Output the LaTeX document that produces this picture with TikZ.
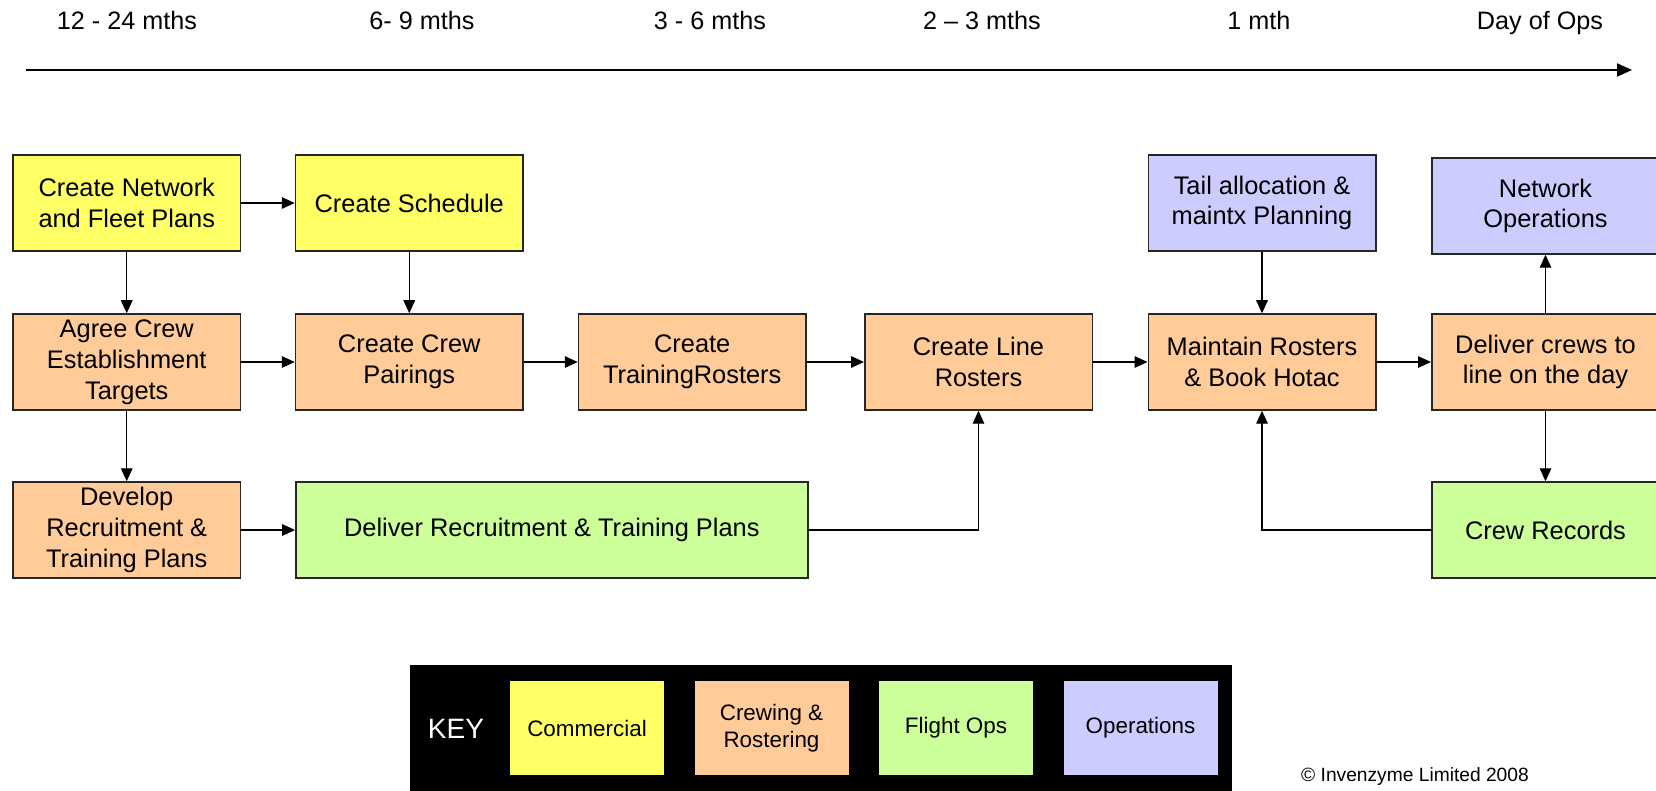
\documentclass[tikz,border=0pt]{standalone}
\usepackage{fontspec}
\setmainfont{Liberation Sans}
\usetikzlibrary{arrows.meta}
\definecolor{commercial}{HTML}{FFFF66}
\definecolor{crewing}{HTML}{FFCC99}
\definecolor{flightops}{HTML}{CCFF99}
\definecolor{operations}{HTML}{CCCCFF}
\begin{document}
\begin{tikzpicture}[x=0.5pt, y=-0.5pt,
  task/.style = {draw=black!85, line width=0.75pt, minimum width=113.75pt, minimum height=48pt, align=center, inner sep=2pt, font=\fontsize{12.7}{15.4}\selectfont},
  when/.style = {anchor=base, font=\fontsize{12.6}{15}\selectfont},
  keybox/.style = {minimum width=77pt, minimum height=47pt, align=center, inner sep=1pt, font=\fontsize{11.2}{13.6}\selectfont},
  flow/.style = {draw, line width=0.6pt, -{Triangle[length=6.5pt,width=5.8pt]}}]
	\useasboundingbox (0,0) rectangle (1656,791);
	% time line
	\node[when] (t1) at (127,30) {12 - 24 mths};
	\node[when] (t2) at (422,30) {6- 9 mths};
	\node[when] (t3) at (710,30) {3 - 6 mths};
	\node[when] (t4) at (982,30) {2 -- 3 mths};
	\node[when] (t5) at (1259,30) {1 mth};
	\node[when] (t6) at (1540,30) {Day of Ops};
	\coordinate (tstart) at (26,70);
	\coordinate (tend) at (1632,70);
	\draw[line width=1pt, -{Triangle[length=7.5pt,width=6.5pt]}] (tstart) -- (tend);
	% tasks
	\node[task, fill=commercial] (net) at (126.75,203) {Create Network\\and Fleet  Plans};
	\node[task, fill=commercial] (sched) at (409.25,203) {Create Schedule};
	\node[task, fill=operations] (tail) at (1262,203) {Tail allocation \&\\maintx Planning};
	\node[task, fill=operations] (netops) at (1545.5,206) {Network\\Operations};
	\node[task, fill=crewing] (agree) at (126.75,362) {Agree Crew\\Establishment\\Targets};
	\node[task, fill=crewing] (pair) at (409.25,362) {Create Crew\\Pairings};
	\node[task, fill=crewing] (train) at (692.25,362) {Create\\TrainingRosters};
	\node[task, fill=crewing] (line) at (978.5,362) {Create Line\\Rosters};
	\node[task, fill=crewing] (maint) at (1262,362) {Maintain Rosters\\\& Book Hotac};
	\node[task, fill=crewing] (deliver) at (1545.5,362) {Deliver crews to\\line on the day};
	\node[task, fill=crewing] (develop) at (126.75,530) {Develop\\Recruitment \&\\Training Plans};
	\node[task, fill=flightops, minimum width=256pt] (recruit) at (551.8,530) {Deliver Recruitment \& Training Plans};
	\node[task, fill=flightops] (records) at (1545.5,530) {Crew Records};
	% connectors
	\draw[flow] (net) -- (sched);
	\draw[flow] (net) -- (agree);
	\draw[flow] (sched) -- (pair);
	\draw[flow] (agree) -- (pair);
	\draw[flow] (agree) -- (develop);
	\draw[flow] (develop) -- (recruit);
	\draw[flow] (pair) -- (train);
	\draw[flow] (train) -- (line);
	\draw[flow] (recruit) -| (line);
	\draw[flow] (line) -- (maint);
	\draw[flow] (tail) -- (maint);
	\draw[flow] (maint) -- (deliver);
	\draw[flow] (deliver) -- (netops);
	\draw[flow] (deliver) -- (records);
	\draw[flow] (records) -| (maint);
	% key
	\fill[black] (410,665) rectangle (1232,795);
	\node[text=white, font=\fontsize{14}{16}\selectfont] (key) at (456,729) {KEY};
	\node[keybox, fill=commercial] (k1) at (587,728) {Commercial};
	\node[keybox, fill=crewing] (k2) at (771.5,728) {Crewing \&\\Rostering};
	\node[keybox, fill=flightops] (k3) at (956,728) {Flight Ops};
	\node[keybox, fill=operations] (k4) at (1140.5,728) {Operations};
	\node[font=\fontsize{9.6}{11}\selectfont] (copy) at (1415,777) {© Invenzyme Limited 2008};
\end{tikzpicture}
\end{document}
